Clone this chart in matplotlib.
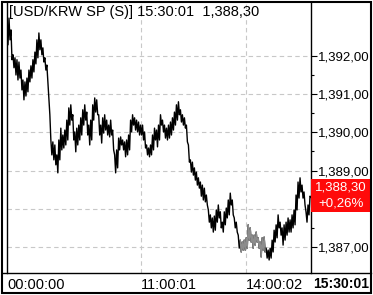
import numpy as np
import matplotlib.pyplot as plt
from matplotlib.patches import Rectangle
from matplotlib.lines import Line2D

plt.rcParams['font.family'] = ['Liberation Sans', 'DejaVu Sans']

# high / low of the price inside each small time slot
hi = [1392.94, 1392.99, 1392.68, 1392.03, 1391.95, 1391.90, 1391.84, 1391.63, 1391.37, 1391.32,
      1391.42, 1391.63, 1391.74, 1391.90, 1392.10, 1392.42, 1392.60, 1392.42, 1392.21, 1391.95,
      1391.76, 1390.85, 1389.80, 1389.75, 1389.67, 1389.41, 1389.80, 1390.11, 1389.93, 1390.06,
      1390.32, 1390.64, 1390.72, 1390.46, 1390.01, 1390.11, 1390.19, 1390.38, 1390.59, 1390.72,
      1390.53, 1390.19, 1390.32, 1390.72, 1390.90, 1390.85, 1390.46, 1390.19, 1390.38, 1390.46,
      1390.32, 1390.19, 1390.32, 1390.06, 1389.41, 1389.54, 1389.85, 1389.88, 1389.80, 1389.75,
      1389.80, 1389.93, 1390.32, 1390.46, 1390.38, 1390.32, 1390.27, 1390.19, 1390.19, 1390.01,
      1389.67, 1389.59, 1389.67, 1389.93, 1390.11, 1390.06, 1390.19, 1390.46, 1390.32, 1390.19,
      1390.11, 1390.19, 1390.27, 1390.38, 1390.53, 1390.72, 1390.80, 1390.59, 1390.46, 1390.38,
      1390.19, 1389.67, 1389.28, 1389.22, 1389.07, 1388.96, 1388.81, 1388.70, 1388.62, 1388.54,
      1388.36, 1387.97, 1387.84, 1387.76, 1387.81, 1387.97, 1388.10, 1387.92, 1387.65, 1387.92,
      1388.02, 1388.23, 1388.41, 1388.23, 1387.76, 1387.65, 1387.31, 1387.18, 1387.13, 1387.18,
      1387.24, 1387.58, 1387.50, 1387.31, 1387.31, 1387.39, 1387.24, 1387.13, 1387.24, 1387.26,
      1386.97, 1386.92, 1386.97, 1387.18, 1387.44, 1387.58, 1387.84, 1387.65, 1387.50, 1387.58,
      1387.65, 1387.76, 1387.71, 1387.84, 1387.97, 1388.36, 1388.70, 1388.81, 1388.62, 1388.44,
      1387.92, 1388.10, 1388.33]
lo = [1392.29, 1392.42, 1391.90, 1391.69, 1391.50, 1391.37, 1391.42, 1391.11, 1390.85, 1390.95,
      1391.06, 1391.32, 1391.42, 1391.58, 1391.79, 1391.95, 1392.16, 1392.03, 1391.84, 1391.63,
      1391.32, 1390.46, 1389.41, 1389.28, 1389.15, 1388.94, 1389.28, 1389.54, 1389.59, 1389.67,
      1389.80, 1390.19, 1390.32, 1389.80, 1389.49, 1389.67, 1389.80, 1389.93, 1390.19, 1390.32,
      1389.93, 1389.67, 1389.80, 1390.32, 1390.53, 1390.46, 1389.93, 1389.72, 1389.98, 1390.06,
      1389.93, 1389.88, 1389.93, 1389.54, 1388.94, 1389.07, 1389.54, 1389.67, 1389.54, 1389.36,
      1389.41, 1389.54, 1390.01, 1390.19, 1390.06, 1390.01, 1389.93, 1389.93, 1389.80, 1389.59,
      1389.41, 1389.36, 1389.41, 1389.54, 1389.80, 1389.62, 1389.80, 1390.19, 1390.01, 1389.85,
      1389.80, 1389.85, 1389.93, 1390.06, 1390.19, 1390.32, 1390.46, 1390.27, 1390.19, 1390.11,
      1389.75, 1389.22, 1388.96, 1388.88, 1388.75, 1388.62, 1388.54, 1388.33, 1388.23, 1388.18,
      1388.10, 1387.65, 1387.50, 1387.39, 1387.44, 1387.65, 1387.76, 1387.50, 1387.39, 1387.58,
      1387.76, 1387.84, 1388.10, 1387.84, 1387.50, 1387.39, 1386.97, 1386.87, 1386.92, 1386.92,
      1386.97, 1387.18, 1387.13, 1386.97, 1387.05, 1387.13, 1386.97, 1386.74, 1386.92, 1386.87,
      1386.71, 1386.66, 1386.71, 1386.87, 1387.13, 1387.24, 1387.50, 1387.31, 1387.05, 1387.18,
      1387.31, 1387.39, 1387.39, 1387.50, 1387.58, 1387.97, 1388.28, 1388.44, 1388.28, 1388.10,
      1387.65, 1387.84, 1388.30]

title = "[USD/KRW SP (S)] 15:30:01  1,388,30"
last_price = "1,388,30"
change = "+0,26%"
time_ticks = [0, 67, 120]
time_labels = ["00:00:00", "11:00:01", "14:00:02"]
last_time = "15:30:01"
price_ticks = [1387, 1388, 1389, 1390, 1391, 1392]
# 1,388,00 sits under the red last-price box
price_labels = ["1,387,00", "", "1,389,00", "1,390,00", "1,391,00", "1,392,00"]
gray_from, gray_to = 117, 130

W, H = 373, 295
FS = 10.5
FS_R = 9.5   # right-hand column is narrow
fig = plt.figure(figsize=(W / 100, H / 100), dpi=100)
ax = fig.add_axes([7 / W, 1 - 273 / H, 304 / W, 271 / H])

n = len(hi)
xs = np.arange(2 * n) / 2
ys = np.ravel(np.column_stack([hi, lo]))
ax.plot(xs, ys, color='black', lw=1.0, zorder=3)
g = slice(2 * gray_from, 2 * gray_to)
ax.plot(xs[g], ys[g], color='#8c8c8c', lw=1.0, zorder=4)

ax.set_xlim(0, n - 0.5)
ax.set_ylim(1386.32, 1393.41)

for p in price_ticks:
    ax.axhline(p, color='#c8c8c8', lw=0.8, ls=(0, (4, 3)), zorder=1)
for t in time_ticks[1:]:
    ax.axvline(t, color='#c8c8c8', lw=0.8, ls=(0, (4, 3)), zorder=1)

ax.yaxis.tick_right()
ax.set_yticks(price_ticks)
ax.set_yticklabels(price_labels, fontsize=FS_R)
ax.set_yticks(np.array(price_ticks[:-1]) + 0.5, minor=True)
ax.tick_params(axis='y', which='major', length=4, width=0.8, pad=1, direction='out')
ax.tick_params(axis='y', which='minor', length=2.5, width=0.8, direction='out')

ax.set_xticks(time_ticks)
ax.set_xticklabels(time_labels, fontsize=FS, ha='left')
ax.tick_params(axis='x', length=0, pad=3.5)

for s in ['top', 'bottom']:
    ax.spines[s].set_visible(False)
for s in ['left', 'right']:
    ax.spines[s].set_linewidth(1.0)

ax.text(0.006, 0.988, title, transform=ax.transAxes, fontsize=FS, va='top', ha='left', zorder=5)

fig.text(313 / W, 1 - 284 / H, last_time, fontsize=FS - 0.5, fontweight='bold', va='center', ha='left')

# last price box
fig.add_artist(Rectangle((311 / W, 1 - 212 / H), 60 / W, 33 / H, transform=fig.transFigure,
                         facecolor='#ff0a0a', edgecolor='none', zorder=10))
fig.text(341 / W, 1 - 188 / H, last_price, color='white', fontsize=FS_R, ha='center', va='center', zorder=11)
fig.text(341 / W, 1 - 204 / H, change, color='white', fontsize=FS_R, ha='center', va='center', zorder=11)

# frame
fig.add_artist(Line2D([2 / W, 371 / W], [1 - 273 / H, 1 - 273 / H], transform=fig.transFigure,
                      color='black', lw=1.0, zorder=13))
fig.add_artist(Rectangle((2 / W, 1 - 293 / H), 369 / W, 291 / H, transform=fig.transFigure,
                         fill=False, edgecolor='black', lw=1.5, zorder=13))

fig.savefig('out.png', dpi=100)
